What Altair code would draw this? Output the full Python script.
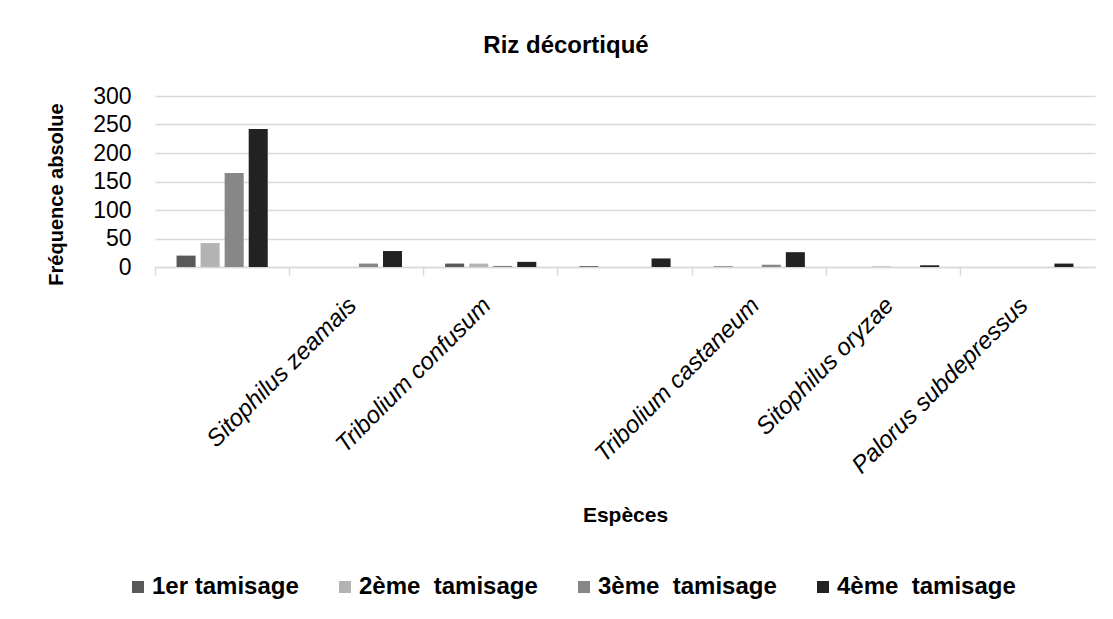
import altair as alt
import pandas as pd

# --- data ---
species_keys = ["s1", "s2", "s3", "s4", "s5", "s6", "s7"]
species_labels = ["", "Sitophilus zeamais", "Tribolium confusum", "",
                  "Tribolium castaneum", "Sitophilus oryzae", "Palorus subdepressus"]
series = ["1er tamisage", "2ème\u00a0\u00a0tamisage", "3ème\u00a0\u00a0tamisage", "4ème\u00a0\u00a0tamisage"]
tam1 = [20, 0, 6, 1.5, 1, 0, 0]
tam2 = [42, 0, 6, 0, 0, 1, 0]
tam3 = [165, 6, 2, 0, 4, 0, 0]
tam4 = [242, 28, 9, 15, 26, 3, 6]
colors = ["#595959", "#b3b3b3", "#878787", "#222222"]
y_ticks = [0, 50, 100, 150, 200, 250, 300]

rows = []
for s, vals in zip(series, [tam1, tam2, tam3, tam4]):
    for k, v in zip(species_keys, vals):
        rows.append({"key": k, "series": s, "value": v})
df = pd.DataFrame(rows)

label_map = "{" + ",".join(f"'{k}':'{l}'" for k, l in zip(species_keys, species_labels)) + "}"

FONT = "Liberation Sans, Arial, sans-serif"

chart = alt.Chart(df).mark_bar().encode(
    x=alt.X("key:N", sort=species_keys,
            scale=alt.Scale(paddingInner=0, paddingOuter=0),
            axis=alt.Axis(title="Espèces", bandPosition=0,
                          labelExpr=f"{label_map}[datum.value]",
                          labelAngle=-45, labelAlign="right", labelBaseline="top",
                          labelOffset=-12,
                          labelFont=FONT, labelFontStyle="italic",
                          labelFontSize=24, labelColor="black", labelPadding=18,
                          labelLimit=0,
                          tickSize=8, tickColor="#d9d9d9", tickWidth=1.5,
                          domainColor="#d9d9d9", domainWidth=1.5,
                          titleFont=FONT, titleFontSize=21, titleFontWeight="bold",
                          titleColor="black", titleY=248, titleBaseline="middle")),
    xOffset=alt.XOffset("series:N", sort=series,
                        scale=alt.Scale(paddingInner=0.2083, paddingOuter=0.896)),
    y=alt.Y("value:Q", scale=alt.Scale(domain=[0, 300], nice=False),
            axis=alt.Axis(title="Fréquence absolue", values=y_ticks, domain=False, ticks=False,
                          labelFont=FONT, labelFontSize=23, labelColor="black",
                          labelPadding=24,
                          gridColor="#d9d9d9", gridWidth=1.5,
                          titleFont=FONT, titleFontSize=20, titleFontWeight="bold",
                          titleColor="black", titleX=-99, titleY=98,
                          titleAngle=-90, titleAlign="center", titleBaseline="middle")),
    color=alt.Color("series:N", sort=series,
                    scale=alt.Scale(domain=series, range=colors),
                    legend=alt.Legend(title=None, orient="none", legendX=-29, legendY=479,
                                      direction="horizontal", symbolType="square",
                                      symbolSize=144, symbolStrokeWidth=0,
                                      labelFont=FONT, labelFontSize=24,
                                      labelFontWeight="bold", labelColor="black",
                                      columnPadding=34, labelLimit=0, labelOffset=2)),
).properties(
    width=940, height=171,
    title=alt.TitleParams("Riz décortiqué", font=FONT, fontSize=24, fontWeight="bold",
                          color="black", offset=27, anchor="middle", dx=-59),
    autosize=alt.AutoSizeParams(type="none"),
    padding={"left": 147, "top": 88, "right": 10, "bottom": 344},
).configure_view(stroke=None)

chart.save("out.html", embed_options={"renderer": "svg", "actions": False})
